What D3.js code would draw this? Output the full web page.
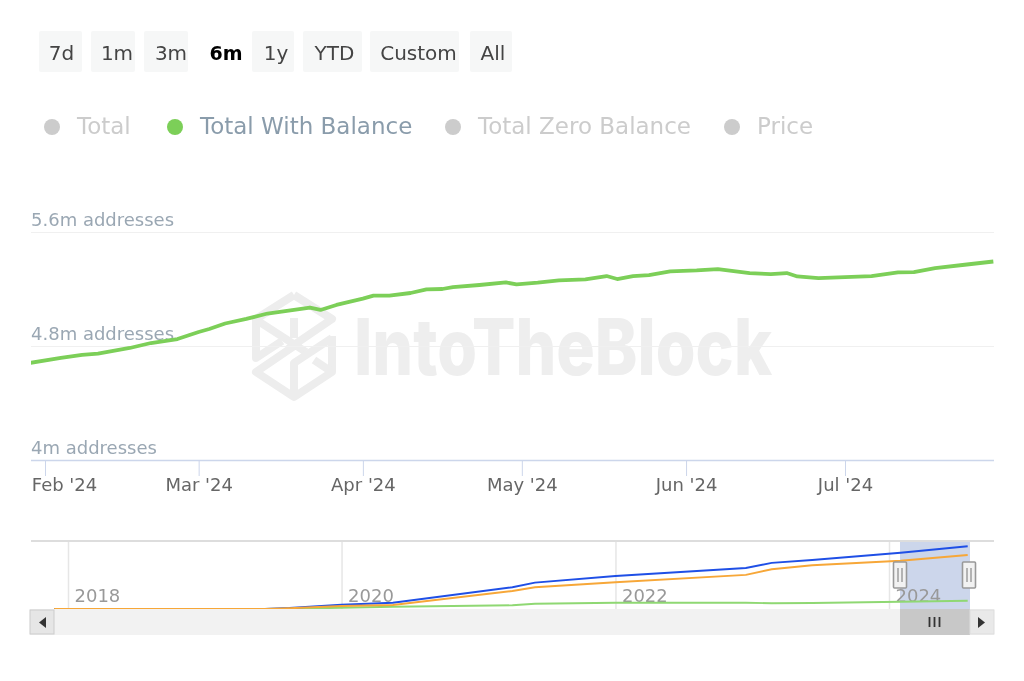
<!DOCTYPE html>
<html>
<head>
<meta charset="utf-8">
<script src="https://cdn.jsdelivr.net/npm/d3@7"></script>
<style>
  html, body { margin: 0; padding: 0; background: #fff; }
  svg { display: block; font-family: "DejaVu Sans", sans-serif; filter: blur(0.5px); }
  svg .tick text { font-family: "DejaVu Sans", sans-serif; }
</style>
</head>
<body>
<svg id="chart" width="1024" height="681"></svg>
<script>
const rangeButtons = ["7d", "1m", "3m", "6m", "1y", "YTD", "Custom", "All"]
const selectedButton = "6m"
const legendNames = ["Total", "Total With Balance", "Total Zero Balance", "Price"]
const activeLegend = "Total With Balance"

const yTicks = [4, 4.8, 5.6]
const monthTicks = ["2024-02-01", "2024-03-01", "2024-04-01", "2024-05-01", "2024-06-01", "2024-07-01"]
const yearTicks = ["2018-01-01", "2020-01-01", "2022-01-01", "2024-01-01"]

// main series (million addresses)
const balanceDates = ["2024-01-29","2024-02-04","2024-02-08","2024-02-11","2024-02-17","2024-02-21","2024-02-26",
  "2024-03-01","2024-03-03","2024-03-06","2024-03-10","2024-03-14","2024-03-19","2024-03-22","2024-03-24","2024-03-27",
  "2024-04-01","2024-04-03","2024-04-06","2024-04-10","2024-04-13","2024-04-16","2024-04-18","2024-04-23","2024-04-28","2024-04-30",
  "2024-05-04","2024-05-08","2024-05-13","2024-05-17","2024-05-19","2024-05-22","2024-05-25","2024-05-29",
  "2024-06-03","2024-06-07","2024-06-10","2024-06-13","2024-06-17","2024-06-20","2024-06-22","2024-06-26",
  "2024-07-01","2024-07-06","2024-07-11","2024-07-14","2024-07-18","2024-07-24","2024-07-29"]
const balanceValues = [4.68,4.716,4.737,4.747,4.786,4.821,4.849,
  4.898,4.919,4.958,4.990,5.028,5.053,5.070,5.053,5.088,
  5.133,5.154,5.154,5.172,5.197,5.200,5.213,5.228,5.246,5.232,
  5.244,5.260,5.267,5.291,5.270,5.291,5.298,5.323,
  5.330,5.340,5.326,5.312,5.305,5.312,5.288,5.277,
  5.284,5.291,5.316,5.319,5.347,5.372,5.393]

// navigator series, same units, much coarser
const navDates = ["2017-11-25","2019-06-10","2019-08-15","2020-01-01","2020-05-17","2021-04-01","2021-05-31",
  "2022-01-01","2022-12-15","2023-02-22","2023-06-10","2024-02-01","2024-07-29"]
const navTotal = [0,0,0.65,2.8,4.09,14.1,17.1,21.4,26.6,29.9,31.8,36.5,40.7]
const navZero = [0,0,0.5,1.95,2.6,11.7,14.1,17.3,22.1,25.8,28.4,31.3,35.0]
const navBalance = [0,0,0.2,0.85,1.5,2.4,3.4,4.1,4.1,3.7,3.9,4.74,5.39]

const parseDate = d3.utcParse("%Y-%m-%d")
const svg = d3.select("#chart")

// range buttons, third number nudges the label inside its box
const buttonBoxes = [[39,43,1],[91,44,4],[144,44,5],[205,42,0],[252,42,3],[303,59,2],[370,89,4],[470,42,2]]
const buttons = svg.append("g").selectAll("g").data(rangeButtons).join("g")
  .attr("transform", (d, i) => `translate(${buttonBoxes[i][0]},31)`)
buttons.filter(d => d !== selectedButton).append("rect")
  .attr("width", d => buttonBoxes[rangeButtons.indexOf(d)][1])
  .attr("height", 41).attr("rx", 2).attr("fill", "#f6f7f7")
buttons.append("text")
  .attr("x", d => { const b = buttonBoxes[rangeButtons.indexOf(d)]; return b[1] / 2 + b[2] })
  .attr("y", 29)
  .attr("text-anchor", "middle")
  .attr("font-size", d => d === selectedButton ? 19 : 20)
  .attr("font-weight", d => d === selectedButton ? "bold" : null)
  .attr("fill", d => d === selectedButton ? "#000" : "#444")
  .text(d => d)

// legend
const legendX = [52, 175, 453, 732]
const legend = svg.append("g").selectAll("g").data(legendNames).join("g")
  .attr("transform", (d, i) => `translate(${legendX[i]},127)`)
legend.append("circle").attr("r", 8)
  .attr("fill", d => d === activeLegend ? "#7ccf58" : "#ccc")
legend.append("text")
  .attr("x", 25).attr("y", 7)
  .attr("font-size", 23)
  .attr("fill", d => d === activeLegend ? "#8a9cab" : "#ccc")
  .text(d => d)

// watermark
const mark = svg.append("g")
mark.append("g").attr("fill", "none").attr("stroke", "#ededed").attr("stroke-width", 8).attr("stroke-linejoin", "round")
  .selectAll("path")
  .data([
    "M294 295L332 319L288 349",
    "M294 295L256 319V358L282 341",
    "M294 318V338",
    "M258 321L306 352",
    "M332 336V372L294 397L256 372L300 342",
    "M332 338L294 363V397",
    "M314 360L332 372"
  ])
  .join("path").attr("d", d => d)
mark.append("text")
  .attr("x", 354).attr("y", 375)
  .attr("font-family", "Inter, 'Liberation Sans', sans-serif")
  .attr("font-weight", 800).attr("font-size", 78)
  .attr("textLength", 418).attr("lengthAdjust", "spacingAndGlyphs")
  .attr("fill", "#eeeeee")
  .text("IntoTheBlock")

// main chart
const x = d3.scaleUtc().domain([parseDate("2024-02-01"), parseDate("2024-07-01")]).range([45, 845])
const y = d3.scaleLinear().domain([4, 5.6]).range([460, 232])

svg.append("clipPath").attr("id", "plotClip").append("rect")
  .attr("x", 31).attr("y", 200).attr("width", 963).attr("height", 270)

const yAxis = svg.append("g").attr("transform", "translate(31,0)")
  .call(d3.axisRight(y).tickValues(yTicks).tickSize(963).tickFormat(d => `${d}m addresses`))
yAxis.select(".domain").remove()
yAxis.selectAll("line").attr("stroke", "#f0f0f0")
yAxis.selectAll("text")
  .attr("x", 0).attr("dy", -7)
  .attr("text-anchor", "start")
  .attr("font-size", 18)
  .attr("fill", "#9aa7b3")

const xAxis = svg.append("g").attr("transform", "translate(0,460)")
  .call(d3.axisBottom(x).tickValues(monthTicks.map(parseDate)).tickSize(16).tickFormat(d3.utcFormat("%b '%y")))
xAxis.select(".domain").attr("d", "M31 0.5H994").attr("stroke", "#ccd6eb").attr("stroke-width", 1.5)
xAxis.selectAll("line").attr("stroke", "#ccd6eb")
xAxis.selectAll("text")
  .attr("y", 31)
  .attr("dy", 0)
  .attr("x", (d, i) => i === 0 ? 19 : 0)
  .attr("font-size", 18)
  .attr("fill", "#666")

const line = d3.line().x((d, i) => x(parseDate(balanceDates[i]))).y(d => y(d))
svg.append("path")
  .attr("clip-path", "url(#plotClip)")
  .attr("d", line(balanceValues))
  .attr("fill", "none").attr("stroke", "#7ccf58").attr("stroke-width", 3.8).attr("stroke-linejoin", "round")

// navigator
const navX = d3.scaleUtc().domain([parseDate("2018-01-01"), parseDate("2024-01-01")]).range([68, 889])
const navY = d3.scaleLinear().domain([0, 41.5]).range([609, 545])

svg.append("rect").attr("x", 900).attr("y", 541).attr("width", 70).attr("height", 68).attr("fill", "#ccd6eb")

const navAxis = svg.append("g").attr("transform", "translate(0,541)")
  .call(d3.axisBottom(navX).tickValues(yearTicks.map(parseDate)).tickSize(68).tickFormat(d3.utcFormat("%Y")))
navAxis.select(".domain").remove()
navAxis.selectAll("line").attr("stroke", "#e6e6e6").attr("stroke-width", 1.5)
navAxis.selectAll("text")
  .attr("y", 61).attr("dy", 0).attr("x", 6)
  .attr("text-anchor", "start")
  .attr("font-size", 18)
  .attr("fill", "#999")

svg.append("line").attr("x1", 31).attr("x2", 994).attr("y1", 541).attr("y2", 541)
  .attr("stroke", "#ddd").attr("stroke-width", 2)

const navSeries = [[navBalance, "#8fd873"], [navTotal, "#1f4fe6"], [navZero, "#f7a738"]]
const navLine = d3.line().x((d, i) => navX(parseDate(navDates[i]))).y(d => navY(d))
svg.append("g").selectAll("path").data(navSeries).join("path")
  .attr("d", d => navLine(d[0]))
  .attr("fill", "none").attr("stroke", d => d[1]).attr("stroke-width", 1.9)

// navigator handles
const handles = svg.append("g").selectAll("g").data([900, 969]).join("g")
  .attr("transform", d => `translate(${d},575)`)
handles.append("rect").attr("x", -6.5).attr("y", -13).attr("width", 13).attr("height", 26)
  .attr("fill", "#f2f2f2").attr("stroke", "#999").attr("stroke-width", 1.6).attr("rx", 1)
handles.append("path").attr("d", "M-2 -7V7M2 -7V7").attr("stroke", "#999").attr("stroke-width", 1.4)

// scrollbar
const bar = svg.append("g")
bar.append("rect").attr("x", 30).attr("y", 609).attr("width", 964).attr("height", 26).attr("fill", "#f2f2f2")
bar.append("rect").attr("x", 900).attr("y", 609).attr("width", 70).attr("height", 26).attr("fill", "#c8c8c8")
bar.append("path").attr("d", "M929.5 617V627M934.5 617V627M939.5 617V627").attr("stroke", "#333").attr("stroke-width", 1.8)
bar.append("rect").attr("x", 30).attr("y", 610).attr("width", 24).attr("height", 24)
  .attr("fill", "#e6e6e6").attr("stroke", "#ccc")
bar.append("rect").attr("x", 970).attr("y", 610).attr("width", 24).attr("height", 24)
  .attr("fill", "#e9e9e9").attr("stroke", "#ddd")
bar.append("path").attr("d", "M46 617V628L39 622.5Z").attr("fill", "#333")
bar.append("path").attr("d", "M978 617V628L985 622.5Z").attr("fill", "#333")
</script>
</body>
</html>
